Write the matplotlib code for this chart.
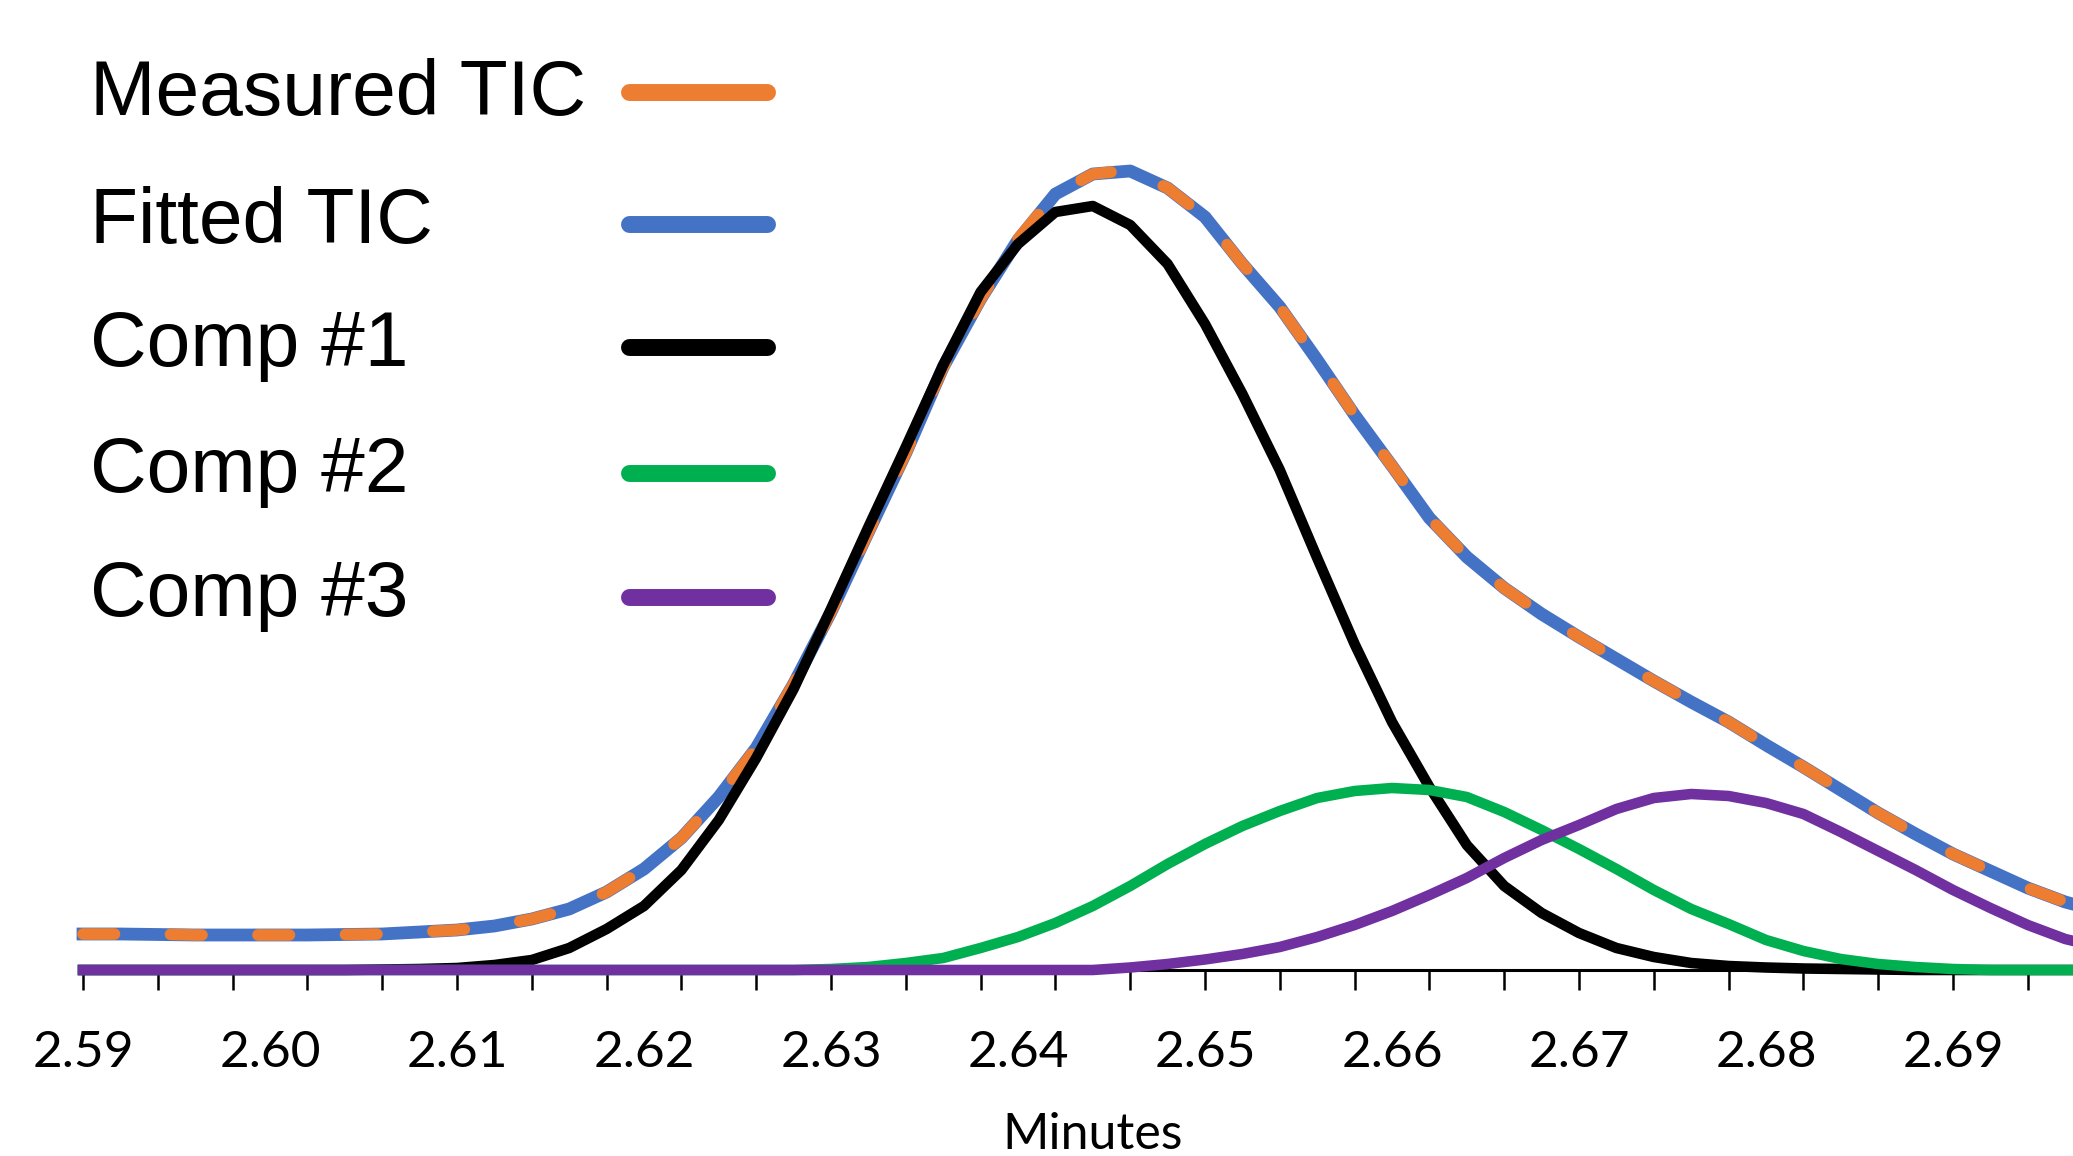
import matplotlib
matplotlib.use('Agg')
import matplotlib.pyplot as plt
from matplotlib.lines import Line2D
from matplotlib.ticker import FixedLocator

# Retention time (minutes) and intensities (arbitrary units)
minutes = [2.590, 2.592, 2.594, 2.596, 2.598, 2.600, 2.602, 2.604, 2.606, 2.608,
           2.610, 2.612, 2.614, 2.616, 2.618, 2.620, 2.622, 2.624, 2.626, 2.628,
           2.630, 2.632, 2.634, 2.636, 2.638, 2.640, 2.642, 2.644, 2.646, 2.648,
           2.650, 2.652, 2.654, 2.656, 2.658, 2.660, 2.662, 2.664, 2.666, 2.668,
           2.670, 2.672, 2.674, 2.676, 2.678, 2.680, 2.682, 2.684, 2.686, 2.688,
           2.690, 2.692, 2.694, 2.696, 2.698]

measured_tic = [36, 36, 36, 35, 35, 35, 35, 35.5, 36, 38,
                40, 44, 51, 61, 78, 101, 132, 173, 222, 286,
                358, 438, 517, 603, 671, 731, 776, 796, 800, 782,
                753, 706, 663, 610, 555, 504, 452, 413, 382, 356,
                333, 311, 289, 268, 248, 225, 203, 180, 157, 136,
                116, 99, 82, 68, 58]

fitted_tic = [36, 36, 35.5, 35, 35, 35, 35, 35.5, 36, 38,
              40, 44, 51, 61, 78, 101, 132, 173, 222, 286,
              358, 438, 517, 603, 671, 730, 776, 796, 799, 782,
              753, 706, 663, 610, 555, 504, 452, 413, 382, 356,
              333, 311, 289, 268, 248, 225, 203, 180, 157, 136,
              116, 99, 82, 68, 58]

comp1 = [0, 0, 0, 0, 0, 0, 0, 0, 0.5, 1,
         2, 5, 10, 22, 41, 64, 100, 150, 212, 281,
         361, 443, 523, 605, 678, 726, 758, 764, 745, 706,
         646, 576, 500, 412, 326, 248, 183, 125, 84, 57,
         37, 22, 13, 7, 4, 2.5, 1.5, 1, 0.5, 0,
         0, 0, 0, 0, 0]

comp2 = [0, 0, 0, 0, 0, 0, 0, 0, 0, 0,
         0, 0, 0, 0, 0, 0, 0, 0, 0, 0,
         1, 3, 7, 12, 22, 33, 47, 64, 84, 106,
         126, 144, 159, 172, 179, 182, 180, 173, 158, 140,
         121, 101, 80, 61, 46, 30, 19, 11, 6, 3,
         1, 0, 0, 0, 0]

comp3 = [0, 0, 0, 0, 0, 0, 0, 0, 0, 0,
         0, 0, 0, 0, 0, 0, 0, 0, 0, 0,
         0, 0, 0, 0, 0, 0, 0, 0, 2.5, 6,
         10.5, 16, 23, 33, 45, 59, 75, 92, 112, 130,
         145, 161, 172, 176, 174, 167, 156, 138, 119, 100,
         80, 62, 45, 31, 22]

tick_labels = ['2.59', '2.60', '2.61', '2.62', '2.63', '2.64',
               '2.65', '2.66', '2.67', '2.68', '2.69']
legend_labels = ['Measured TIC', 'Fitted TIC', 'Comp #1', 'Comp #2', 'Comp #3']
legend_colors = ['#ED7D31', '#4472C4', '#000000', '#00B050', '#7030A0']

W, H = 2073, 1156
fig = plt.figure(figsize=(W / 100, H / 100), dpi=100)
# plot area runs a bit past the right edge (the picture is cropped)
ax = fig.add_axes([83 / W, 1 - 970 / H, 2020 / W, 970 / H])

ax.plot(minutes, fitted_tic, color='#4472C4', lw=9.2, solid_joinstyle='round',
        clip_on=False, zorder=2)
ax.plot(minutes, measured_tic, color='#ED7D31', lw=8.4, dashes=(2.7, 4.8),
        dash_capstyle='round', clip_on=False, zorder=3)
ax.plot(minutes, comp1, color='#000000', lw=7.6, clip_on=False, zorder=4)
ax.plot(minutes, comp2, color='#00B050', lw=7.6, clip_on=False, zorder=5)
ax.plot(minutes, comp3, color='#7030A0', lw=7.6, clip_on=False, zorder=6)

ax.set_xlim(2.59, 2.59 + 2020 / 18700)
ax.set_ylim(0, 970)

for side in ['left', 'top', 'right']:
    ax.spines[side].set_visible(False)
ax.spines['bottom'].set_linewidth(2.2)
ax.set_yticks([])

label_pos = [float(t) for t in tick_labels]
ax.xaxis.set_major_locator(FixedLocator(label_pos))
ax.set_xticklabels(tick_labels, family='Lato', fontsize=37)
ax.xaxis.set_minor_locator(FixedLocator([2.59 + 0.004 * k for k in range(27)]))
ax.xaxis.remove_overlapping_locs = False
ax.tick_params(axis='x', which='major', length=0, pad=43)
ax.tick_params(axis='x', which='minor', length=14.4, width=1.8, direction='out')

ax.set_xlabel('Minutes', family='Lato', fontsize=36, va='baseline')
ax.xaxis.set_label_coords(0.5, -(1149 - 970) / 970)

# hand-made legend on the left
text_base = [115, 243, 366, 492, 616]
line_y = [92, 224.5, 347, 472.6, 597]
for label, col, yb, yl in zip(legend_labels, legend_colors, text_base, line_y):
    fig.text(90 / W, 1 - yb / H, label, family='Liberation Sans', fontsize=56.5,
             va='baseline', ha='left')
    fig.add_artist(Line2D([629 / W, 767 / W], [1 - yl / H, 1 - yl / H],
                          transform=fig.transFigure, color=col, lw=12.2,
                          solid_capstyle='round'))

fig.savefig('out.png', dpi=100)
